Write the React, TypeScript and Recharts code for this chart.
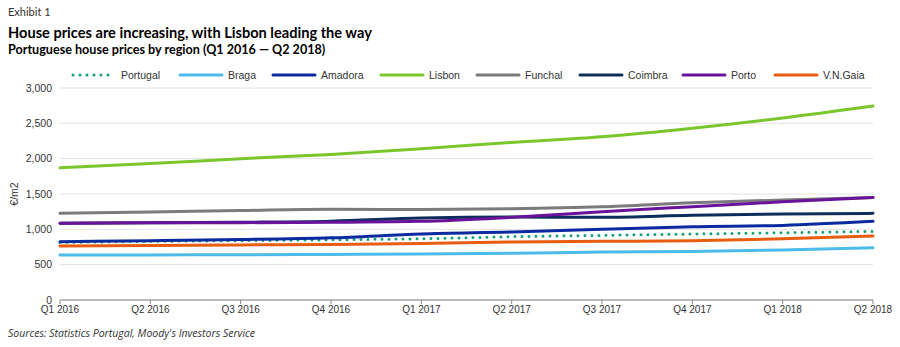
import React from "react";
import { LineChart, Line, XAxis, YAxis, CartesianGrid } from "recharts";

const quarters = ["Q1 2016", "Q2 2016", "Q3 2016", "Q4 2016", "Q1 2017", "Q2 2017", "Q3 2017", "Q4 2017", "Q1 2018", "Q2 2018"];
const portugal = [815, 830, 840, 852, 867, 896, 915, 934, 952, 971];
const braga = [636, 638, 640, 645, 650, 660, 679, 688, 707, 740];
const amadora = [825, 840, 855, 880, 934, 962, 1000, 1037, 1056, 1113];
const lisbon = [1870, 1930, 2000, 2060, 2140, 2230, 2310, 2430, 2575, 2745];
const funchal = [1226, 1245, 1265, 1283, 1282, 1292, 1320, 1376, 1414, 1452];
const coimbra = [1085, 1092, 1100, 1115, 1160, 1175, 1170, 1198, 1216, 1226];
const porto = [1085, 1092, 1094, 1100, 1113, 1170, 1250, 1320, 1390, 1452];
const gaia = [764, 772, 780, 787, 801, 820, 830, 839, 867, 905];
const yTicks = [0, 500, 1000, 1500, 2000, 2500, 3000];

const series = [
  { key: "Portugal", values: portugal, color: "#12a07c", dotted: true },
  { key: "Braga", values: braga, color: "#4dbbe9" },
  { key: "Amadora", values: amadora, color: "#0b2a9e" },
  { key: "Lisbon", values: lisbon, color: "#7ac62c" },
  { key: "Funchal", values: funchal, color: "#7b7b7d" },
  { key: "Coimbra", values: coimbra, color: "#0d2e5c" },
  { key: "Porto", values: porto, color: "#68139a" },
  { key: "V.N.Gaia", values: gaia, color: "#e85d10" },
];

const data = quarters.map((q, i) => {
  const row: any = { q };
  series.forEach((s) => (row[s.key] = s.values[i]));
  return row;
});

// legend x positions (line start)
const legendX = [73, 180, 273, 381, 477, 580, 683, 775];

const axisFont = "'Liberation Sans', Arial, sans-serif";
const titleFont = "Lato, 'Open Sans', sans-serif";

export default function App() {
  return (
    <div style={{ position: "absolute", left: 0, top: 0, width: 900, height: 347, background: "#fff", overflow: "hidden" }}>
      <div style={{ position: "absolute", left: 8, top: 5, fontFamily: titleFont, fontSize: 11, color: "#333", lineHeight: "14px" }}>
        Exhibit 1
      </div>
      <div style={{ position: "absolute", left: 8, top: 24, fontFamily: titleFont, fontSize: 14.6, fontWeight: 700, color: "#000", lineHeight: "18px" }}>
        House prices are increasing, with Lisbon leading the way
      </div>
      <div style={{ position: "absolute", left: 8, top: 42, fontFamily: titleFont, fontSize: 12.6, fontWeight: 700, color: "#000", lineHeight: "16px" }}>
        Portuguese house prices by region (Q1 2016 — Q2 2018)
      </div>

      <svg style={{ position: "absolute", left: 0, top: 68 }} width={900} height={14}>
        {series.map((s, i) => (
          <g key={s.key}>
            <line
              x1={legendX[i]}
              x2={legendX[i] + 42}
              y1={7}
              y2={7}
              stroke={s.color}
              strokeWidth={3}
              strokeLinecap="round"
              strokeDasharray={s.dotted ? "0 7" : undefined}
            />
            <text x={legendX[i] + 48} y={11} fontFamily={axisFont} fontSize={10.5} fill="#333">
              {s.key}
            </text>
          </g>
        ))}
      </svg>

      <div style={{ position: "absolute", left: 0, top: 0 }}>
        <LineChart width={900} height={347} data={data} margin={{ top: 88, right: 27, bottom: 27, left: 0 }}>
          <CartesianGrid vertical={false} stroke="#e2e2e2" />
          <XAxis
            dataKey="q"
            height={20}
            stroke="#888"
            tickLine={{ stroke: "#888" }}
            tickSize={4}
            tick={{ fontFamily: axisFont, fontSize: 10, fill: "#333" }}
            interval={0}
          />
          <YAxis
            width={60}
            domain={[0, 3000]}
            ticks={yTicks}
            axisLine={false}
            tickLine={false}
            tickFormatter={(v: number) => v.toLocaleString("en-US")}
            tick={{ fontFamily: axisFont, fontSize: 10.5, fill: "#333" }}
            label={{ value: "€/m2", angle: -90, position: "insideLeft", offset: 14, style: { fontFamily: axisFont, fontSize: 10.5, fill: "#333", textAnchor: "middle" } }}
          />
          {series.map((s) => (
            <Line
              key={s.key}
              type="monotone"
              dataKey={s.key}
              stroke={s.color}
              strokeWidth={3}
              strokeLinecap="round"
              strokeDasharray={s.dotted ? "0 7" : undefined}
              dot={false}
              activeDot={false}
              isAnimationActive={false}
            />
          ))}
        </LineChart>
      </div>

      <div style={{ position: "absolute", left: 8, top: 326, fontFamily: "'Open Sans', sans-serif", fontStyle: "italic", fontSize: 10.5, color: "#333" }}>
        Sources: Statistics Portugal, Moody's Investors Service
      </div>
    </div>
  );
}
